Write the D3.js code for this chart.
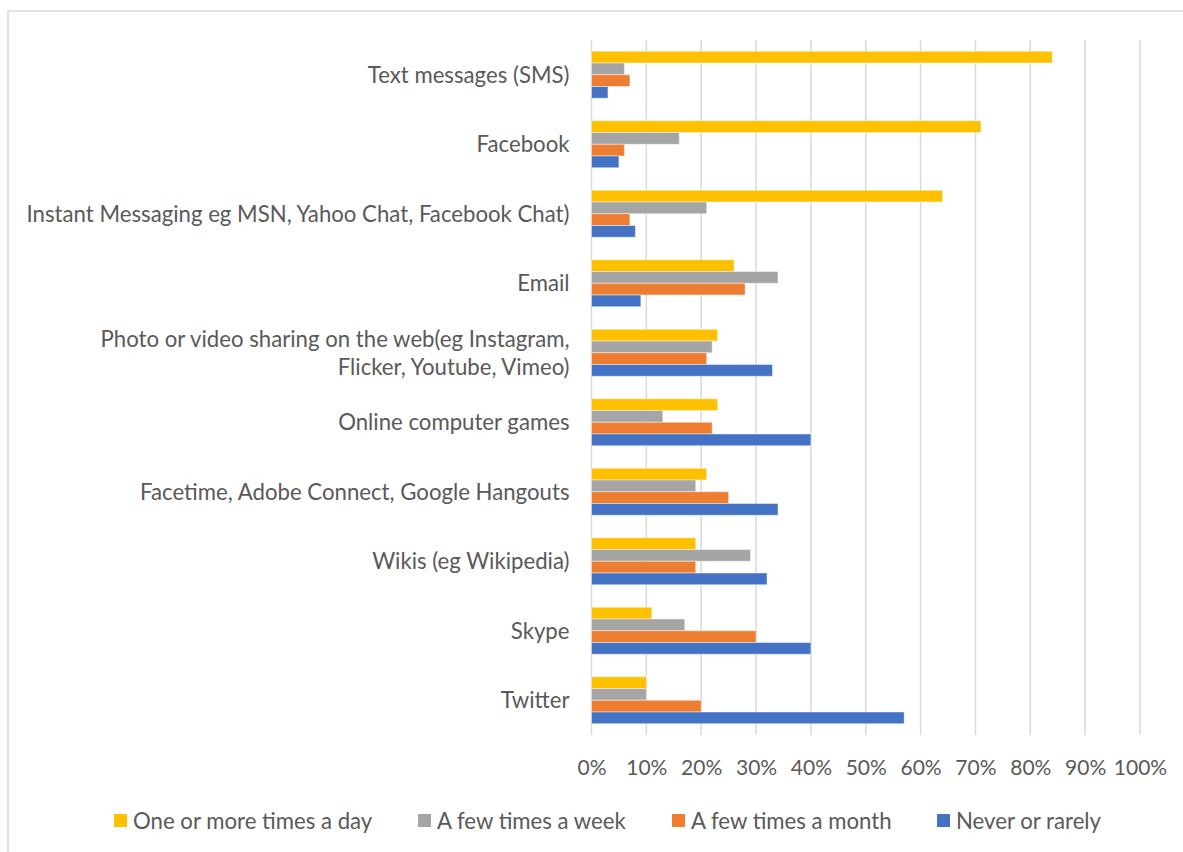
<!DOCTYPE html>
<html>
<head>
<meta charset="utf-8">
<script src="https://cdn.jsdelivr.net/npm/d3@7"></script>
<style>
  html, body { margin: 0; padding: 0; background: #fff; }
  svg { display: block; font-family: Lato, "Open Sans", sans-serif; }
</style>
</head>
<body>
<svg id="chart" width="1183" height="852"></svg>
<script>
const categories = [
  "Text messages (SMS)",
  "Facebook",
  "Instant Messaging eg MSN, Yahoo Chat, Facebook Chat)",
  "Email",
  "Photo or video sharing on the web(eg Instagram,\nFlicker, Youtube, Vimeo)",
  "Online computer games",
  "Facetime, Adobe Connect, Google Hangouts",
  "Wikis (eg Wikipedia)",
  "Skype",
  "Twitter"
];
const seriesNames = ["One or more times a day", "A few times a week", "A few times a month", "Never or rarely"];
const seriesColors = ["#FFC000", "#A5A5A5", "#ED7D31", "#4472C4"];
const dailyValues   = [84, 71, 64, 26, 23, 23, 21, 19, 11, 10];
const weeklyValues  = [6, 16, 21, 34, 22, 13, 19, 29, 17, 10];
const monthlyValues = [7, 6, 7, 28, 21, 22, 25, 19, 30, 20];
const neverValues   = [3, 5, 8, 9, 33, 40, 34, 32, 40, 57];
const tickValues = [0, 10, 20, 30, 40, 50, 60, 70, 80, 90, 100];

const seriesValues = [dailyValues, weeklyValues, monthlyValues, neverValues];

const svg = d3.select("#chart");
const textColor = "#595959";
const gridColor = "#d9d9d9";
const labelSize = 22.2;
const tickSize = 21;
const legendSize = 22.2;

// chart border (top and left visible)
svg.append("path")
  .attr("d", "M8,852 L8,11 L1183,11")
  .attr("fill", "none")
  .attr("stroke", gridColor)
  .attr("stroke-width", 1.5);

const plot = { left: 591.5, right: 1140, top: 40, bottom: 735 };

const x = d3.scaleLinear().domain([0, 100]).range([plot.left, plot.right]);
const y = d3.scaleBand().domain(categories).range([plot.top, plot.bottom]).paddingInner(0.324).paddingOuter(0.162);
const ySub = d3.scaleBand().domain(seriesNames).range([0, y.bandwidth()]);

// gridlines
svg.append("g").selectAll("line").data(tickValues).join("line")
  .attr("x1", d => x(d)).attr("x2", d => x(d))
  .attr("y1", plot.top).attr("y2", plot.bottom)
  .attr("stroke", gridColor).attr("stroke-width", 1.5);

// x axis tick labels
const xAxis = d3.axisBottom(x).tickValues(tickValues).tickFormat(d => d + "%").tickSize(0).tickPadding(0);
const gx = svg.append("g").attr("transform", `translate(0,${plot.bottom})`).call(xAxis);
gx.select(".domain").remove();
gx.selectAll("text")
  .attr("y", 33)
  .attr("dy", "0.35em")
  .attr("fill", textColor)
  .style("font-size", tickSize + "px")
  .style("font-family", "Lato, sans-serif");

// bars
const rows = categories.map((c, i) => ({ c, vals: seriesNames.map((s, j) => ({ s, v: seriesValues[j][i], color: seriesColors[j] })) }));
const g = svg.append("g");
const groups = g.selectAll("g").data(rows).join("g")
  .attr("transform", d => `translate(0,${y(d.c)})`);
groups.selectAll("rect").data(d => d.vals).join("rect")
  .attr("x", x(0))
  .attr("y", d => ySub(d.s))
  .attr("width", d => x(d.v) - x(0))
  .attr("height", ySub.bandwidth())
  .attr("fill", d => d.color)
  .attr("stroke", "#ffffff")
  .attr("stroke-opacity", 0.45)
  .attr("stroke-width", 1);

// y axis labels
const labelG = svg.append("g");
categories.forEach(c => {
  const cy = y(c) + y.bandwidth() / 2;
  const t = labelG.append("text")
    .attr("x", plot.left - 22)
    .attr("text-anchor", "end")
    .attr("fill", textColor)
    .style("font-size", labelSize + "px");
  const lines = c.split("\n");
  const lh = 28;
  const y0 = cy - (lines.length - 1) * lh / 2;
  lines.forEach((l, k) => {
    t.append("tspan").attr("x", plot.left - 22).attr("y", y0 + k * lh).attr("dy", "0.35em").text(l);
  });
});

// legend
const legendX = [114, 418, 672, 937];
const legend = svg.append("g");
seriesNames.forEach((s, j) => {
  legend.append("rect")
    .attr("x", legendX[j]).attr("y", 814)
    .attr("width", 13).attr("height", 13)
    .attr("fill", seriesColors[j]);
  legend.append("text")
    .attr("x", legendX[j] + 19).attr("y", 821)
    .attr("dy", "0.35em")
    .attr("fill", textColor)
    .style("font-size", legendSize + "px")
    .text(s);
});
</script>
</body>
</html>
